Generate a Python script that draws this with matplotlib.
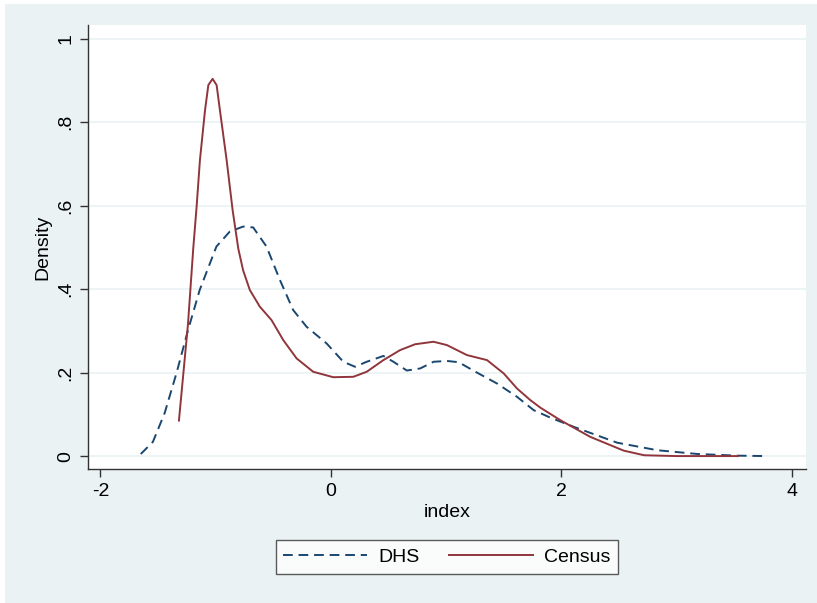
import matplotlib.pyplot as plt
from matplotlib.patches import Rectangle

# density curves
dhs_x = [-1.65, -1.545, -1.443, -1.34, -1.24, -1.139, -0.994, -0.878, -0.762, -0.675,
         -0.559, -0.443, -0.328, -0.212, -0.038, 0.107, 0.209, 0.31, 0.455, 0.542,
         0.658, 0.774, 0.89, 1.006, 1.107, 1.267, 1.44, 1.614, 1.759, 1.904,
         2.107, 2.484, 2.832, 3.18, 3.53, 3.774]
dhs_y = [0.005, 0.034, 0.103, 0.199, 0.302, 0.398, 0.502, 0.538, 0.550, 0.548,
         0.502, 0.422, 0.350, 0.310, 0.270, 0.226, 0.214, 0.226, 0.240, 0.226,
         0.205, 0.210, 0.226, 0.228, 0.225, 0.200, 0.174, 0.142, 0.110, 0.092,
         0.070, 0.032, 0.014, 0.005, 0.001, 0.0]

census_x = [-1.319, -1.24, -1.195, -1.165, -1.137, -1.093, -1.064, -1.027, -0.992, -0.963,
            -0.905, -0.853, -0.804, -0.762, -0.704, -0.617, -0.516, -0.414, -0.298, -0.154,
            0.02, 0.194, 0.31, 0.455, 0.6, 0.73, 0.89, 1.006, 1.18, 1.354,
            1.499, 1.614, 1.73, 1.817, 1.99, 2.25, 2.54, 2.717, 3.0, 3.53]
census_y = [0.085, 0.318, 0.497, 0.600, 0.709, 0.828, 0.889, 0.904, 0.889, 0.828,
            0.709, 0.589, 0.497, 0.445, 0.398, 0.358, 0.326, 0.278, 0.234, 0.202,
            0.189, 0.190, 0.202, 0.230, 0.254, 0.268, 0.274, 0.266, 0.242, 0.230,
            0.198, 0.162, 0.134, 0.116, 0.086, 0.046, 0.013, 0.002, 0.0, 0.0]

yticks = [0, 0.2, 0.4, 0.6, 0.8, 1]
ytick_labels = ['0', '.2', '.4', '.6', '.8', '1']
xticks = [-2, 0, 2, 4]

bg = '#eaf2f3'
plt.rcParams['font.family'] = ['Liberation Sans', 'DejaVu Sans']

fig = plt.figure(figsize=(8.17, 6.03), dpi=100, facecolor='white')
fig.patches.append(Rectangle((5 / 817, 0), 1, 1 - 4 / 603, transform=fig.transFigure,
                             facecolor=bg, edgecolor='none', zorder=-10))

ax = fig.add_axes([0.1077, 0.2222, 0.8788, 0.7363])
ax.set_facecolor('white')

ax.plot(dhs_x, dhs_y, color='#1a476f', lw=1.4, dashes=(5, 3), label='DHS')
ax.plot(census_x, census_y, color='#90353b', lw=1.4, label='Census')

ax.set_xlim(-2.108, 4.121)
ax.set_ylim(-0.031, 1.033)
ax.set_xticks(xticks)
ax.set_xticklabels([str(v) for v in xticks])
ax.set_yticks(yticks)
ax.set_yticklabels(ytick_labels, rotation=90, va='center')
ax.grid(axis='y', color=bg, lw=1.2)
ax.set_axisbelow(True)

for s in ['top', 'right']:
    ax.spines[s].set_visible(False)
for s in ['left', 'bottom']:
    ax.spines[s].set_color('#333333')
    ax.spines[s].set_linewidth(1.0)
ax.tick_params(length=6, width=1.0, color='#333333', labelsize=14, pad=4)

ax.set_xlabel('index', fontsize=14, labelpad=3)
ax.set_ylabel('Density', fontsize=14, labelpad=4)

leg = fig.legend(loc='center', bbox_to_anchor=(447 / 817, 1 - 557 / 603), ncol=2,
                 fontsize=14, frameon=True, fancybox=False, handlelength=4.3,
                 columnspacing=1.5, borderpad=0.4, handletextpad=0.6)
leg.get_frame().set_edgecolor('#333333')
leg.get_frame().set_linewidth(1.0)

fig.savefig('out.png', dpi=100, facecolor=fig.get_facecolor())
